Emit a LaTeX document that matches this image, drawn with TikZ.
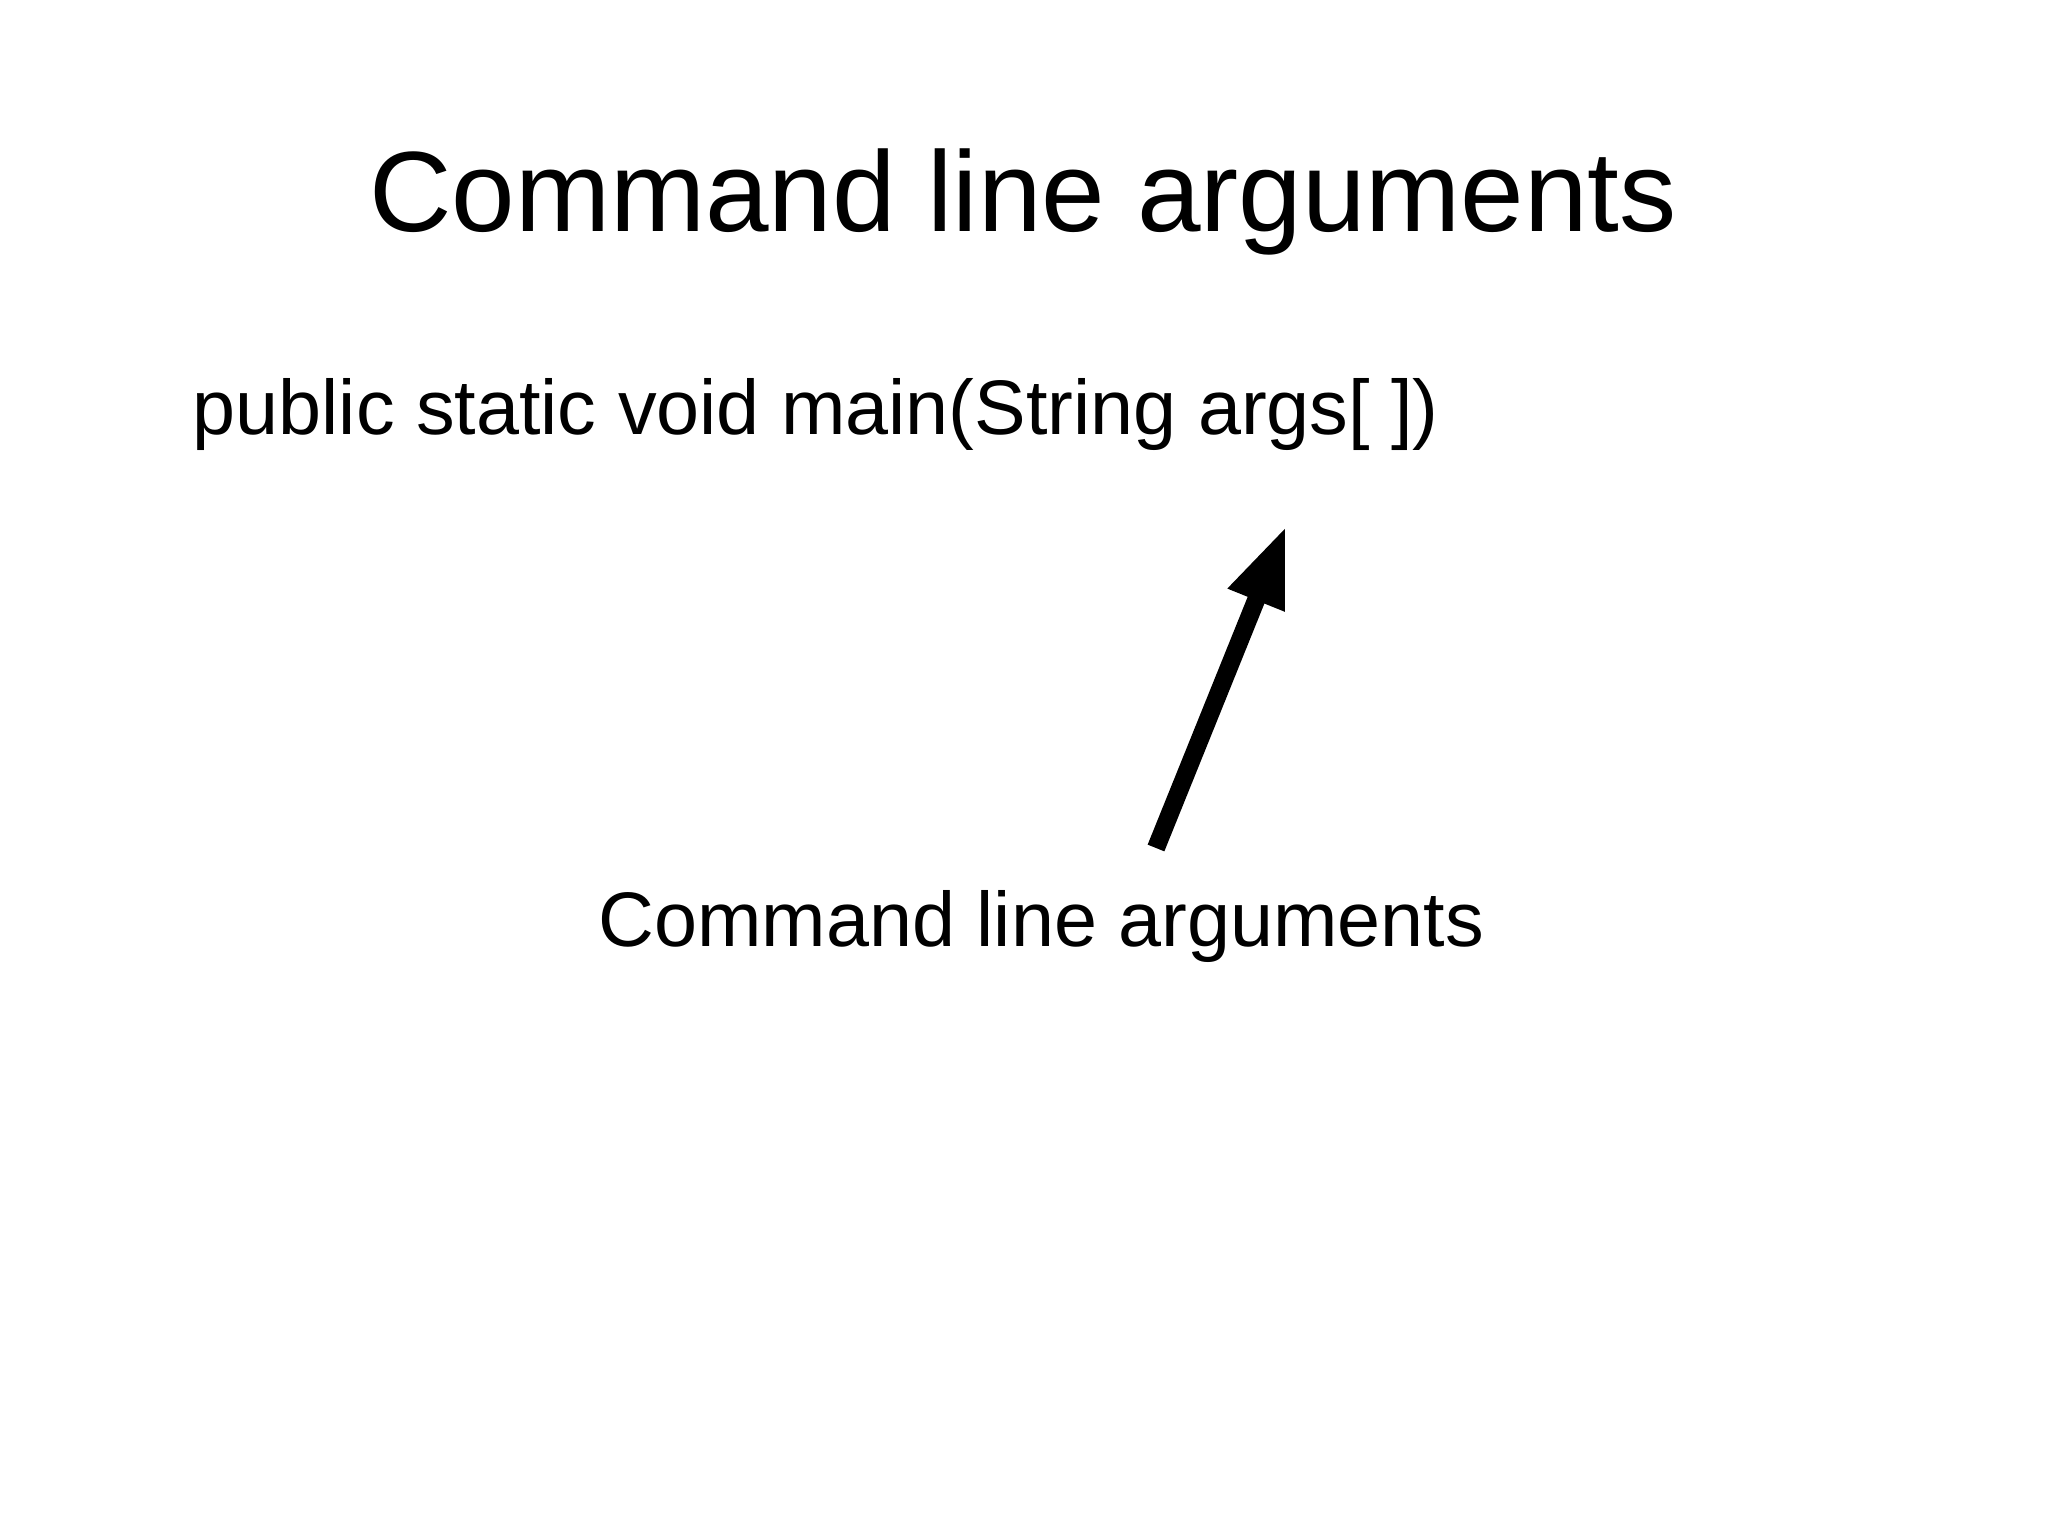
\documentclass[tikz,border=0pt]{standalone}
\usepackage{fontspec}
\setmainfont{Liberation Sans}
\usetikzlibrary{arrows.meta}
\begin{document}
\begin{tikzpicture}
\useasboundingbox (0,0) rectangle (20.48,15.35);
\tikzset{txt/.style={inner sep=0pt,font=\fontsize{22pt}{26pt}\selectfont}}
\node[inner sep=0pt,anchor=base,font=\fontsize{32.5pt}{38pt}\selectfont] (title) at (10.23,13.03) {Command line arguments};
\node[txt,anchor=base west] (code) at (1.92,11.00) {public static void main(String args[ ])};
\node[txt,anchor=base west] (label) at (5.98,5.88) {Command line arguments};
\coordinate (tail) at (11.56,6.87);
\coordinate (tip) at (12.86,10.09);
\draw[line width=0.18cm,-{Triangle[length=0.8cm,width=0.56cm]}] (tail) -- (tip);
\end{tikzpicture}
\end{document}
